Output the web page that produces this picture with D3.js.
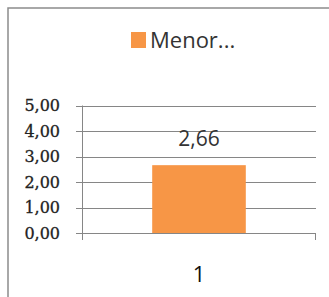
<!DOCTYPE html>
<html>
<head>
<meta charset="utf-8">
<script src="https://cdn.jsdelivr.net/npm/d3@7"></script>
<style>
  body { margin: 0; background: #fff; }
  svg { display: block; }
</style>
</head>
<body>
<script>
// chart data
var categories = ['1'];
var values = [2.66];
var seriesName = 'Menor...';
var yTicks = [0, 1, 2, 3, 4, 5];

var width = 329, height = 297;
var svg = d3.select('body').append('svg').attr('width', width).attr('height', height);

// outer frame (only top and left edges visible)
svg.append('path')
    .attr('d', 'M8,297V8H329')
    .attr('fill', 'none')
    .attr('stroke', '#8c8c8c')
    .attr('stroke-width', 1.5);

var plot = {left: 82, right: 316, top: 105.5, bottom: 233};

var x = d3.scaleBand().domain(categories).range([plot.left, plot.right]).paddingInner(0.6).paddingOuter(0.3);
var y = d3.scaleLinear().domain([0, 5]).range([plot.bottom, plot.top]);

// gridlines
svg.append('g').selectAll('line')
    .data(yTicks)
    .enter().append('line')
    .attr('x1', plot.left - 6)
    .attr('x2', plot.right)
    .attr('y1', function (d) { return Math.round(y(d)) + 0.5; })
    .attr('y2', function (d) { return Math.round(y(d)) + 0.5; })
    .attr('stroke', '#868686')
    .attr('stroke-width', 1);

// y axis line + category boundary ticks
svg.append('line')
    .attr('x1', plot.left + 0.5).attr('x2', plot.left + 0.5)
    .attr('y1', plot.top).attr('y2', plot.bottom + 7)
    .attr('stroke', '#868686');
svg.append('line')
    .attr('x1', plot.right - 0.5).attr('x2', plot.right - 0.5)
    .attr('y1', plot.bottom).attr('y2', plot.bottom + 7)
    .attr('stroke', '#868686');

// y tick labels
svg.append('g').selectAll('text')
    .data(yTicks)
    .enter().append('text')
    .attr('x', 60)
    .attr('y', function (d) { return y(d); })
    .attr('dy', '0.36em')
    .attr('text-anchor', 'end')
    .attr('font-family', '"DejaVu Serif", serif')
    .attr('font-size', 16)
    .attr('fill', '#222')
    .attr('stroke', '#222')
    .attr('stroke-width', 0.3)
    .text(function (d) { return d3.format('.2f')(d).replace('.', ','); });

// bars
svg.append('g').selectAll('rect')
    .data(values)
    .enter().append('rect')
    .attr('x', function (d, i) { return x(categories[i]); })
    .attr('y', function (d) { return y(d); })
    .attr('width', x.bandwidth())
    .attr('height', function (d) { return y(0) - y(d); })
    .attr('fill', '#f79646');

// data labels
svg.append('g').selectAll('text')
    .data(values)
    .enter().append('text')
    .attr('x', function (d, i) { return x(categories[i]) + x.bandwidth() / 2; })
    .attr('y', function (d) { return y(d) - 19; })
    .attr('text-anchor', 'middle')
    .attr('font-family', '"Open Sans", sans-serif')
    .attr('font-size', 21)
    .attr('fill', '#333')
    .text(function (d) { return d3.format('.2f')(d).replace('.', ','); });

// category labels
svg.append('g').selectAll('text')
    .data(categories)
    .enter().append('text')
    .attr('x', function (d) { return x(d) + x.bandwidth() / 2; })
    .attr('y', 282)
    .attr('text-anchor', 'middle')
    .attr('font-family', '"Open Sans", sans-serif')
    .attr('font-size', 22)
    .attr('fill', '#111')
    .text(function (d) { return d; });

// legend
svg.append('rect')
    .attr('x', 131).attr('y', 32).attr('width', 15).attr('height', 16)
    .attr('fill', '#f79646');
svg.append('text')
    .attr('x', 150).attr('y', 48)
    .attr('font-family', '"Open Sans", sans-serif')
    .attr('font-size', 22)
    .attr('fill', '#333')
    .text(seriesName);
</script>
</body>
</html>
